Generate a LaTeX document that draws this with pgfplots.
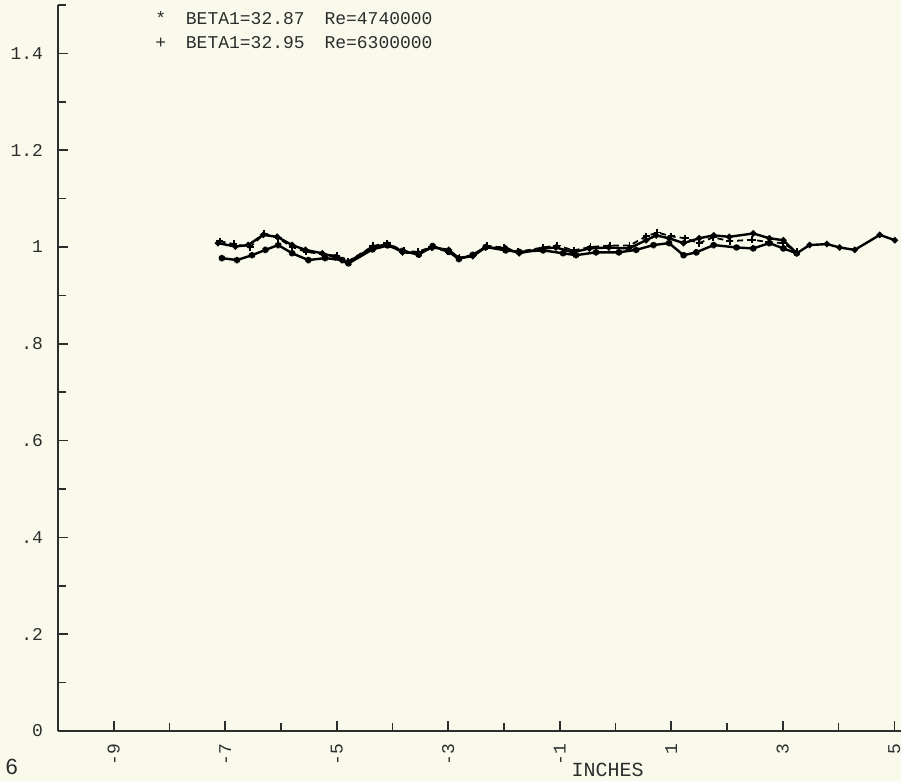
\documentclass[border=0pt]{standalone}
\usepackage{pgfplots}
\pgfplotsset{compat=1.18}
\usepackage{fontspec}
\setmainfont{Liberation Mono}
\newfontfamily\sansf{Liberation Sans}
\definecolor{bg}{RGB}{250,250,236}
\definecolor{ink}{RGB}{45,45,45}
\begin{document}
\begin{tikzpicture}
\useasboundingbox[fill=bg] (-29pt,-25pt) rectangle (421.5pt,365.5pt);
\clip (-29pt,-25pt) rectangle (421.5pt,365.5pt);
\begin{axis}[
  at={(0,0)}, anchor=south west,
  scale only axis, width=421.5pt, height=363pt,
  xmin=-10, xmax=5.12, ymin=0, ymax=1.5,
  axis x line*=bottom, axis y line*=left,
  axis line style={ink, line width=0.9pt},
  xtick={-9,-7,-5,-3,-1,1,3,5},
  xticklabels={-9,-7,-5,-3,-1,1,3,5},
  minor xtick={-10,-8,-6,-4,-2,0,2,4},
  ytick={0,0.2,0.4,0.6,0.8,1,1.2,1.4},
  yticklabels={0,.2,.4,.6,.8,1,1.2,1.4},
  minor ytick={0.1,0.3,0.5,0.7,0.9,1.1,1.3,1.5},
  tick align=inside,
  major tick length=5pt, minor tick length=4pt,
  tick style={ink, line width=0.8pt},
  ticklabel style={font=\fontsize{9}{10}\selectfont, text=ink},
  xticklabel style={rotate=90, anchor=east},
  xticklabel shift=3pt,
  yticklabel shift=4pt,
  xlabel={INCHES},
  xlabel style={at={(rel axis cs:0.652,-0.054)}, anchor=center, font=\fontsize{10}{12}\selectfont, text=ink},
  clip=false,
]
% upper series (continues to the right edge)
\addplot[black, line width=1.2pt, mark=*, mark size=0.9pt] coordinates {
(-7.13,1.008) (-6.82,1.001) (-6.59,1.004) (-6.32,1.025) (-6.07,1.021) (-5.80,1.004)
(-5.56,0.994) (-5.26,0.987) (-5.03,0.979) (-4.81,0.968) (-4.36,0.999) (-4.09,1.006)
(-3.82,0.989) (-3.53,0.987) (-3.28,0.999) (-2.99,0.994) (-2.81,0.977) (-2.56,0.981)
(-2.33,0.999) (-1.97,0.997) (-1.73,0.987) (-1.30,0.997) (-1.07,0.999) (-0.76,0.989)
(-0.47,0.997) (-0.12,0.999) (0.24,0.997) (0.55,1.014) (0.73,1.024) (0.96,1.018)
(1.22,1.008) (1.50,1.018) (1.76,1.024) (2.04,1.021) (2.47,1.028) (2.76,1.018)
(3.01,1.014) (3.25,0.987) (3.48,1.004) (3.79,1.006) (4.02,0.999) (4.29,0.994)
(4.74,1.025) (5.01,1.014)
};
% * series
\addplot[black, line width=1.2pt, mark=asterisk, mark size=1.6pt] coordinates {
(-7.06,0.977) (-6.79,0.973) (-6.52,0.983) (-6.28,0.994) (-6.05,1.004) (-5.80,0.987)
(-5.51,0.973) (-5.21,0.977) (-4.90,0.973) (-4.79,0.966) (-4.36,0.995) (-4.09,1.003)
(-3.82,0.992) (-3.53,0.984) (-3.28,1.002) (-2.99,0.990) (-2.81,0.975) (-2.56,0.984)
(-2.33,1.000) (-1.97,0.993) (-1.73,0.990) (-1.30,0.993) (-0.94,0.987) (-0.71,0.983)
(-0.35,0.989) (0.06,0.989) (0.37,0.994) (0.68,1.004) (0.96,1.008) (1.22,0.983)
(1.45,0.989) (1.76,1.004) (2.17,0.999) (2.47,0.997) (2.76,1.008) (3.01,0.997)
(3.25,0.987)
};
% + series
\addplot[black, line width=0.9pt, densely dashed, mark=+, mark size=1.8pt, mark options={solid}] coordinates {
(-7.10,1.012) (-6.85,1.006) (-6.55,1.000) (-6.30,1.028) (-6.05,1.018) (-5.80,1.000)
(-5.55,0.990) (-5.25,0.985) (-5.00,0.982) (-4.80,0.970) (-4.35,1.002) (-4.10,1.008)
(-3.80,0.992) (-3.55,0.990) (-3.30,1.000) (-3.00,0.990) (-2.80,0.978) (-2.55,0.983)
(-2.30,1.002) (-2.00,0.999) (-1.75,0.990) (-1.30,0.999) (-1.05,1.003) (-0.75,0.993)
(-0.45,1.000) (-0.10,1.003) (0.25,1.003) (0.55,1.022) (0.75,1.030) (1.00,1.022)
(1.25,1.018) (1.50,1.008) (1.75,1.020) (2.05,1.012) (2.45,1.015) (2.75,1.010)
(3.00,1.008) (3.25,0.990)
};
\node[anchor=west, text=ink, font=\fontsize{9}{10}\selectfont, inner sep=0pt] at (rel axis cs:0.115,0.982) {*\hspace{1.1em}BETA1=32.87\hspace{1.1em}Re=4740000};
\node[anchor=west, text=ink, font=\fontsize{9}{10}\selectfont, inner sep=0pt] at (rel axis cs:0.115,0.948) {+\hspace{1.1em}BETA1=32.95\hspace{1.1em}Re=6300000};
\node[anchor=center, text=ink, font=\sansf\fontsize{11}{12}\selectfont, inner sep=0pt] at (rel axis cs:-0.055,-0.050) {6};
\end{axis}
\end{tikzpicture}
\end{document}
